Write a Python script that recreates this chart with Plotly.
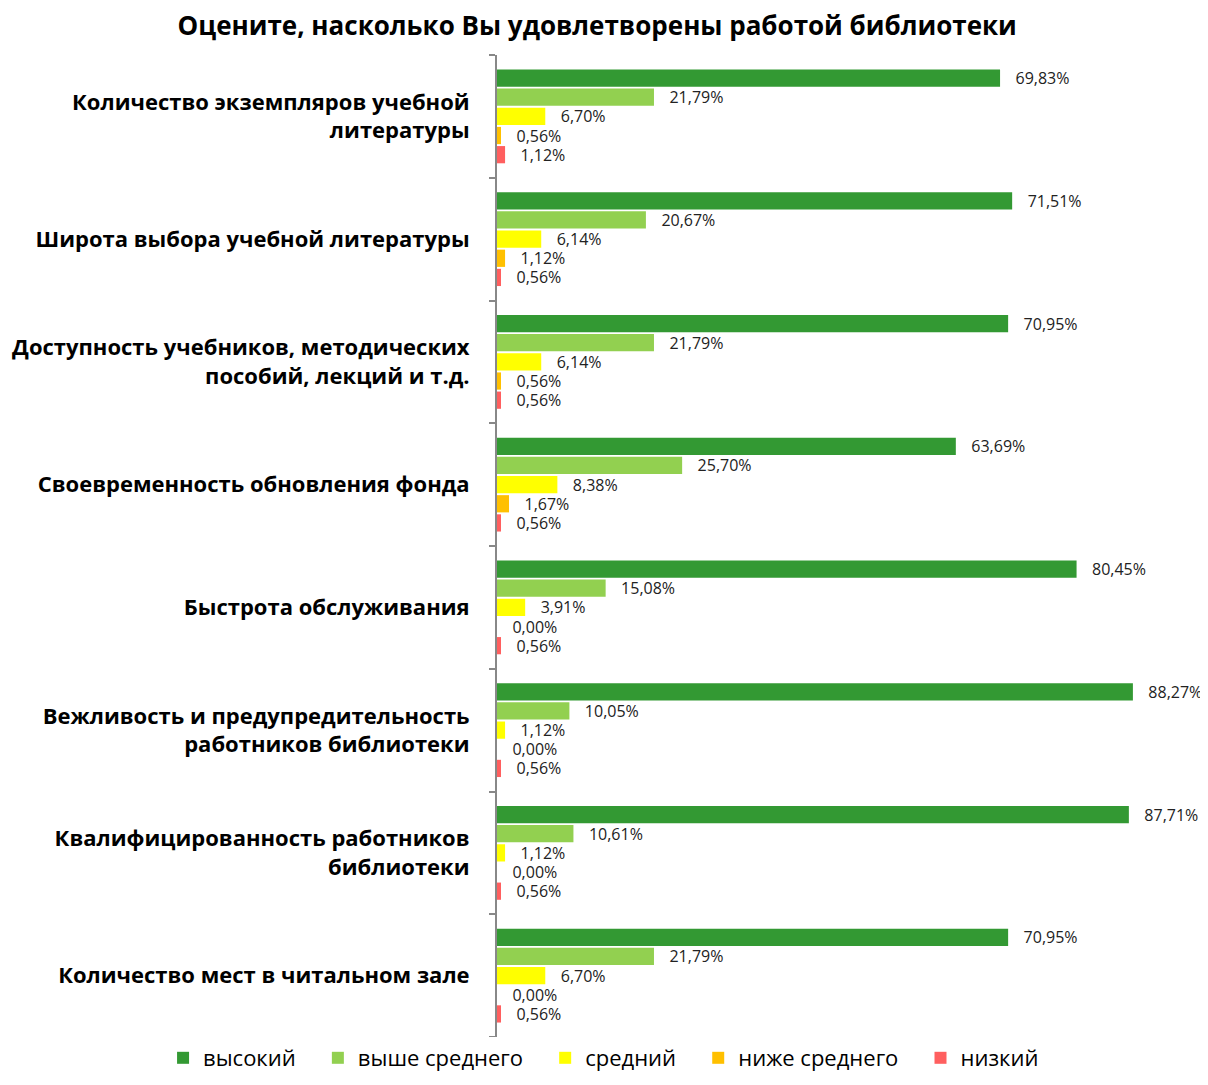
import plotly.graph_objects as go

categories = [
    "Количество экземпляров учебной<br>литературы",
    "Широта выбора учебной литературы",
    "Доступность учебников, методических<br>пособий, лекций и т.д.",
    "Своевременность обновления фонда",
    "Быстрота обслуживания",
    "Вежливость и предупредительность<br>работников библиотеки",
    "Квалифицированность работников<br>библиотеки",
    "Количество мест в читальном зале",
]
series_names = ["высокий", "выше среднего", "средний", "ниже среднего", "низкий"]
vysokiy = [69.83, 71.51, 70.95, 63.69, 80.45, 88.27, 87.71, 70.95]
vyshe_srednego = [21.79, 20.67, 21.79, 25.70, 15.08, 10.05, 10.61, 21.79]
sredniy = [6.70, 6.14, 6.14, 8.38, 3.91, 1.12, 1.12, 6.70]
nizhe_srednego = [0.56, 1.12, 0.56, 1.67, 0.00, 0.00, 0.00, 0.00]
nizkiy = [1.12, 0.56, 0.56, 0.56, 0.56, 0.56, 0.56, 0.56]
colors = ["#339933", "#92D050", "#FFFF00", "#FFC000", "#FF5F5F"]

all_series = [vysokiy, vyshe_srednego, sredniy, nizhe_srednego, nizkiy]

fig = go.Figure()
for i, (name, vals, col) in enumerate(zip(series_names, all_series, colors)):
    labels = ["\u00a0\u00a0\u00a0" + f"{v:.2f}".replace(".", ",") + "%" for v in vals]
    legend_name = name + ("\u00a0\u00a0\u00a0" if i < len(series_names) - 1 else "")
    fig.add_trace(go.Bar(
        y=categories, x=vals, name=legend_name, orientation="h",
        marker=dict(color=col, line=dict(width=0)),
        text=labels, textposition="outside", cliponaxis=False,
        constraintext="none",
        textfont=dict(family="Open Sans", size=16, color="#222"),
        hoverinfo="skip",
    ))

fig.update_layout(
    width=1200, height=1077,
    barmode="group", bargap=0.22, bargroupgap=0.1,
    plot_bgcolor="white", paper_bgcolor="white",
    margin=dict(l=489, r=5, t=47, b=48),
    title=dict(text="<b>Оцените, насколько Вы удовлетворены работой библиотеки</b>",
               x=0.491, xanchor="center", xref="container",
               y=1 - 18 / 1077, yanchor="middle",
               font=dict(family="Open Sans", size=26, color="#000")),
    showlegend=True,
    legend=dict(orientation="h",
                x=-0.473, xanchor="left", y=0, yanchor="top",
                font=dict(family="Open Sans", size=22, color="#000"),
                itemwidth=30, tracegroupgap=0),
    separators=", ",
)
fig.update_xaxes(range=[0, 98], visible=False, showgrid=False, zeroline=False)
fig.update_yaxes(autorange="reversed", showline=True, linecolor="#888", linewidth=2,
                 ticks="outside", ticklen=6, tickcolor="#888", tickwidth=2,
                 tickson="boundaries", showgrid=False,
                 ticklabelstandoff=21,
                 tickfont=dict(family="Open Sans", size=22, color="#000"))
fig.update_yaxes(tickvals=categories, ticktext=["<b>" + c + "</b>" for c in categories])

fig.write_html("out.html")
